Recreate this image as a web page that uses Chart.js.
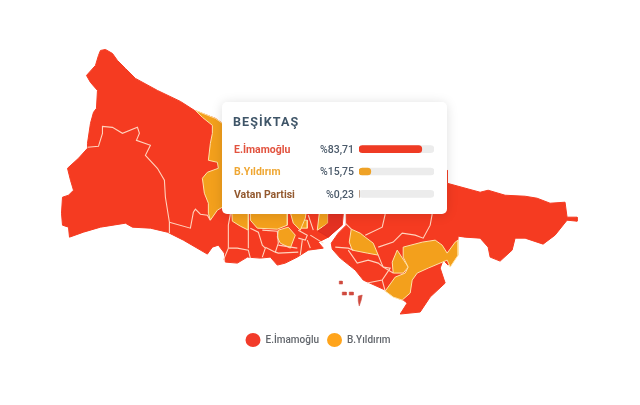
<!DOCTYPE html>
<html lang="tr">
<head>
<meta charset="utf-8">
<title>Beşiktaş</title>
<script src="https://cdn.jsdelivr.net/npm/chart.js@4/dist/chart.umd.js"></script>
<style>
  html, body { margin: 0; padding: 0; background: #fff; }
  body { width: 640px; height: 405px; overflow: hidden; position: relative; font-family: Roboto, sans-serif; }
  #mapa { position: absolute; left: 0; top: 0; filter: blur(.3px); }
  #panel { position: absolute; left: 222px; top: 102px; width: 225px; height: 112px; background: #fff; border-radius: 5px; box-shadow: 0 1px 12px rgba(0,0,0,.13); filter: blur(.2px); }
  #titulo { position: absolute; left: 11px; top: 12px; font-size: 12.5px; font-weight: 700; letter-spacing: 1.1px; color: #3f5568; }
  .fila { position: absolute; left: 12px; font-size: 10.5px; font-weight: 700; }
  .pct { position: absolute; right: 93px; font-size: 10.5px; font-weight: 500; color: #4c5b6b; }
  #barras { position: absolute; left: 137px; top: 36px; }
</style>
</head>
<body>
<canvas id="mapa" width="640" height="405"></canvas>
<div id="panel">
  <div id="titulo"></div>
  <canvas id="barras" width="75" height="67"></canvas>
</div>
<script>
// Resultados del distrito
const distrito = 'BEŞİKTAŞ';
const candidatos = ['E.İmamoğlu', 'B.Yıldırım', 'Vatan Partisi'];
const porcentajes = [83.71, 15.75, 0.23];
const coloresTexto = ['#e2533f', '#efa733', '#93592f'];
const coloresBarra = ['#ef3b24', '#efa226', '#93592f'];
const filaY = [41, 63, 86];

// Leyenda
const leyenda = ['E.İmamoğlu', 'B.Yıldırım'];
const rojo = '#f53b21';
const naranja = '#f3a01c';
const linea = '#ffd3bd';

// Contornos del mapa
const europa = [[100,50],[105,49],[112,53],[117,60],[125,68],[135,78],[157,90],[180,101],[194,110],[215,118],[222,123],[300,130],[343,170],[343,214],[342,225],[328,237],[318,242],[323,248],[308,250],[297,257],[285,263],[277,265],[270,257],[260,258],[247,257],[237,263],[225,262],[224,253],[218,245],[212,247],[207,254],[183,240],[167,232],[150,228],[132,227],[125,223],[100,227],[83,232],[69,237],[68,227],[62,225],[61,213],[62,197],[68,195],[73,190],[70,180],[67,168],[78,158],[87,148],[87,143],[90,123],[93,112],[96,108],[97,90],[90,82],[86,75],[95,65],[98,55]];
const asia = [[346,214],[346,170],[447,170],[447,183],[480,192],[488,190],[505,195],[525,196],[537,198],[550,203],[565,202],[567,217],[577,217],[577,221],[567,220],[555,235],[543,244],[525,238],[515,238],[512,250],[500,261],[490,257],[488,247],[480,238],[465,237],[458,236],[457,250],[448,265],[443,260],[440,268],[445,283],[430,297],[420,312],[400,314],[407,303],[403,300],[397,298],[385,290],[363,280],[355,270],[340,258],[332,249],[331,243],[338,233],[346,225]];
const besiktas = [[328,214],[342,214],[341,225],[328,237],[318,231],[328,223]];

const arnavutkoy = [[195,110],[215,118],[222,123],[240,123],[240,208],[222,207],[217,210],[210,220],[208,213],[208,203],[204,193],[202,178],[207,172],[218,168],[217,162],[208,160],[210,143],[212,133],[212,125],[202,117]];
const naranjaEu1 = [[231,205],[248,205],[248,230],[240,226],[232,221]];
const naranjaEu2 = [[250,205],[287,205],[287,225],[277,229],[257,228],[250,220]];
const naranjaEu3 = [[278,230],[288,227],[295,235],[290,248],[280,243],[277,237]];
const naranjaEu4 = [[288,205],[307,205],[305,218],[300,230],[293,223]];
const naranjaEu5 = [[298,220],[307,220],[307,228],[299,228]];
const naranjaEu6 = [[320,205],[328,205],[328,223],[317,230]];
const naranjaAs1 = [[351,229],[360,233],[365,237],[373,243],[378,255],[367,253],[352,250],[349,242]];
const naranjaAs2 = [[403,247],[422,242],[435,240],[442,245],[447,253],[455,242],[458,240],[458,255],[450,267],[447,260],[428,268],[417,273],[412,280],[410,293],[402,300],[393,297],[385,291],[395,277],[405,273],[408,267],[403,257]];
const naranjaAs3 = [[397,250],[408,267],[403,273],[393,273],[392,262]];

const islas = [
  [[339,281],[342,281],[342,284],[339,284]],
  [[342,292],[346,292],[346,295],[342,295]],
  [[349,292],[353,292],[353,295],[349,295]],
  [[358,296],[362,295],[361,300],[359,306],[358,301]]
];

// Limites interiores entre distritos
const limites = [
  [[87,147],[98,146],[102,133],[102,126],[112,127],[122,133],[137,127],[139,133],[136,140],[150,145],[145,155],[157,168],[164,180],[165,197],[169,222],[169,233]],
  [[169,222],[190,228],[193,212],[195,209],[200,214],[207,215],[210,220]],
  [[230,214],[228,225],[228,235],[228,248],[223,260]],
  [[228,248],[237,248],[248,250],[250,258]],
  [[248,230],[248,248]],
  [[250,228],[258,232],[262,245],[265,248],[262,257]],
  [[262,230],[277,231],[278,243],[275,252],[265,247]],
  [[275,252],[278,253],[298,252]],
  [[278,245],[297,248]],
  [[298,230],[307,235],[305,240],[298,238]],
  [[302,240],[300,255]],
  [[307,240],[310,248]],
  [[310,235],[323,243]],
  [[313,230],[308,215]],
  [[345,223],[351,229]],
  [[385,214],[382,227],[365,235]],
  [[432,214],[430,225],[423,238],[415,235],[402,233],[393,242],[378,247]],
  [[335,247],[348,248],[353,250]],
  [[348,250],[357,263],[368,260],[378,263],[383,267],[393,273]],
  [[378,255],[382,265],[383,267]],
  [[383,267],[390,268],[382,280],[367,283]],
  [[382,280],[385,291]]
];

function poligono(data, color, borde, ancho) {
  return { data: data.concat([data[0]]), showLine: true, fill: 'shape', backgroundColor: color, borderColor: borde, borderWidth: ancho, pointRadius: 0, tension: 0 };
}

// El primer dataset se dibuja encima
const capas = [
  ...limites.map(l => ({ data: l, showLine: true, fill: false, borderColor: linea, borderWidth: 1.1, pointRadius: 0, tension: 0 })),
  poligono(besiktas, '#e33122', '#d92c1f', 0.8),
  ...[naranjaEu1, naranjaEu2, naranjaEu3, naranjaEu4, naranjaEu5, naranjaEu6, naranjaAs1, naranjaAs2, naranjaAs3, arnavutkoy].map(p => poligono(p, naranja, '#ffe2a6', 1)),
  ...islas.map(p => poligono(p, '#cf4a3f', '#cf4a3f', 0.5)),
  poligono(europa, rojo, rojo, 1),
  poligono(asia, rojo, rojo, 1)
];

const mapa = new Chart(document.getElementById('mapa'), {
  type: 'scatter',
  data: { datasets: capas },
  options: {
    responsive: false,
    animation: false,
    layout: { padding: { right: 4, bottom: 50 } },
    scales: {
      x: { type: 'linear', display: false, min: 0, max: 636 },
      y: { type: 'linear', display: false, reverse: true, min: 0, max: 340 }
    },
    plugins: {
      tooltip: { enabled: false },
      legend: {
        position: 'bottom',
        labels: {
          usePointStyle: true,
          pointStyleWidth: 15,
          boxHeight: 10.6,
          padding: 8,
          font: { family: 'Roboto', size: 10, weight: '500' },
          generateLabels: () => leyenda.map((t, i) => ({
            text: t, fontColor: '#62666c', fillStyle: i ? '#ffa41b' : '#f23b2a', strokeStyle: 'transparent', lineWidth: 0, pointStyle: 'circle', datasetIndex: i
          }))
        }
      }
    }
  }
});
// La escala vertical coincide con los pixeles del area del grafico
mapa.options.scales.y.max = mapa.chartArea.bottom;
mapa.update('none');

// Panel del distrito
const panel = document.getElementById('panel');
document.getElementById('titulo').textContent = distrito;
candidatos.forEach((c, i) => {
  const nombre = document.createElement('div');
  nombre.className = 'fila';
  nombre.style.top = filaY[i] + 'px';
  nombre.style.color = coloresTexto[i];
  nombre.textContent = c;
  panel.appendChild(nombre);
  const pct = document.createElement('div');
  pct.className = 'pct';
  pct.style.top = filaY[i] + 'px';
  pct.textContent = '%' + porcentajes[i].toFixed(2).replace('.', ',');
  panel.appendChild(pct);
});

new Chart(document.getElementById('barras'), {
  type: 'bar',
  data: {
    labels: candidatos,
    datasets: [
      { data: porcentajes, backgroundColor: coloresBarra, barThickness: 7, borderRadius: 4, borderSkipped: false, grouped: false },
      { data: candidatos.map(() => 100), backgroundColor: '#ececec', barThickness: 7, borderRadius: 4, borderSkipped: false, grouped: false }
    ]
  },
  options: {
    indexAxis: 'y',
    responsive: false,
    animation: false,
    scales: {
      x: { display: false, min: 0, max: 100 },
      y: { display: false }
    },
    plugins: { legend: { display: false }, tooltip: { enabled: false } }
  }
});
</script>
</body>
</html>
